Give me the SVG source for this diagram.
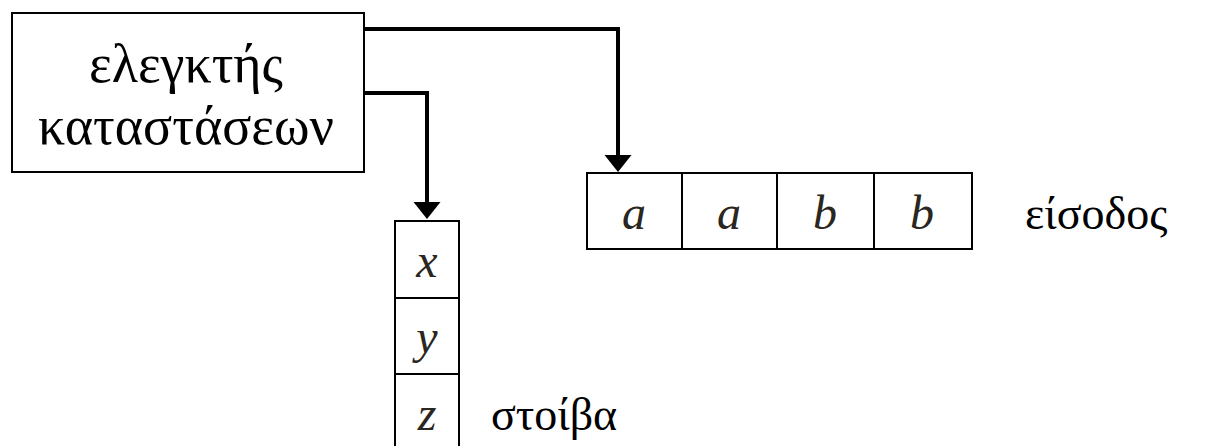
<svg xmlns="http://www.w3.org/2000/svg" width="1209" height="446" viewBox="0 0 1209 446">
<style>
.box{fill:#fff;stroke:#000;stroke-width:2}
.cell{fill:none;stroke:#000;stroke-width:2}
.conn{fill:none;stroke:#000;stroke-width:4}
</style>
<defs>
<marker id="ah" markerUnits="userSpaceOnUse" markerWidth="19" markerHeight="28" refX="2" refY="13.5" orient="auto">
<path d="M0,0 L17,13.5 L0,27 Z" fill="#000"/>
</marker>
</defs>
<g id="controller">
<rect class="box" x="12" y="13" width="352" height="159"/>
<g font-family="Liberation Serif" font-size="54" fill="#000" text-anchor="middle">
<text x="186" y="82">ελεγκτής</text>
<text x="186" y="144">καταστάσεων</text>
</g>
</g>
<g id="input">
<rect class="cell" x="587" y="173" width="385" height="76"/>
<line class="cell" x1="682" y1="173" x2="682" y2="249"/>
<line class="cell" x1="777" y1="173" x2="777" y2="249"/>
<line class="cell" x1="874" y1="173" x2="874" y2="249"/>
<g font-family="Liberation Serif" font-size="48" font-style="italic" fill="#2a2620" text-anchor="middle">
<text x="634" y="229">a</text>
<text x="729" y="229">a</text>
<text x="825" y="229">b</text>
<text x="922" y="229">b</text>
</g>
<text font-family="Liberation Serif" font-size="46" fill="#000" x="1025" y="229">είσοδος</text>
</g>
<g id="stack">
<path class="cell" d="M395,452 V221 H459 V452"/>
<line class="cell" x1="395" y1="298" x2="459" y2="298"/>
<line class="cell" x1="395" y1="374" x2="459" y2="374"/>
<g font-family="Liberation Serif" font-size="48" font-style="italic" fill="#2a2620" text-anchor="middle">
<text x="427" y="277">x</text>
<text x="427" y="353">y</text>
<text x="427" y="430">z</text>
</g>
<text font-family="Liberation Serif" font-size="46" fill="#000" x="491" y="430">στοίβα</text>
</g>
<g id="connectors">
<path class="conn" d="M364,29 H618 V157" marker-end="url(#ah)"/>
<path class="conn" d="M364,93 H427 V204" marker-end="url(#ah)"/>
</g>
</svg>
